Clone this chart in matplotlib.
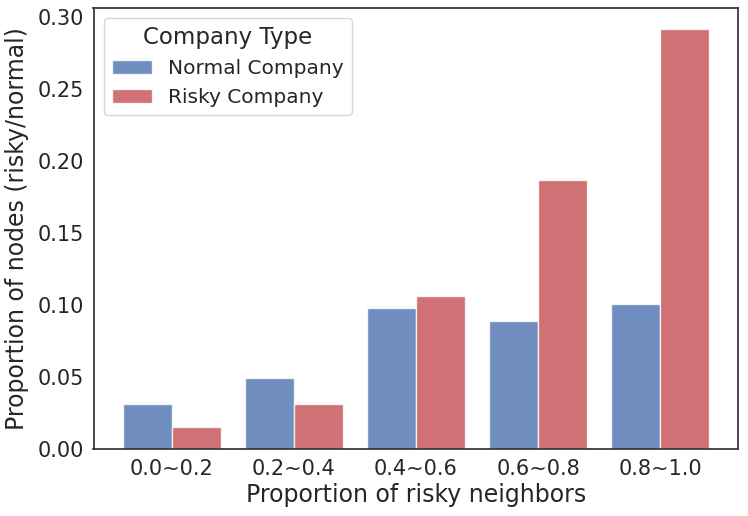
import numpy as np
import matplotlib
matplotlib.use('Agg')
import matplotlib.pyplot as plt
import seaborn as sns

# datos
categorias = ['0.0~0.2', '0.2~0.4', '0.4~0.6', '0.6~0.8', '0.8~1.0']
normal = [0.031, 0.049, 0.098, 0.089, 0.101]
risky = [0.015, 0.031, 0.106, 0.187, 0.292]
series = ['Normal Company', 'Risky Company']

sns.set_style('white')
plt.rcParams['font.family'] = ['DejaVu Sans']

fig, ax = plt.subplots(figsize=(7.48, 5.16), dpi=100)

x = np.arange(len(categorias))
ancho = 0.4
ax.bar(x - ancho / 2, normal, ancho, color='#4C72B0', alpha=0.8,
       edgecolor='white', linewidth=1, label=series[0])
ax.bar(x + ancho / 2, risky, ancho, color='#C44E52', alpha=0.8,
       edgecolor='white', linewidth=1, label=series[1])

ax.set_xticks(x)
ax.set_xticklabels(categorias)
ax.set_yticks(np.arange(0, 0.31, 0.05))
ax.tick_params(labelsize=15, colors='#262626')
ax.set_xlabel('Proportion of risky neighbors', fontsize=17, color='#262626',
              labelpad=3)
ax.set_ylabel('Proportion of nodes (risky/normal)', fontsize=17, color='#262626',
              labelpad=6)

for s in ax.spines.values():
    s.set_color('#333333')
    s.set_linewidth(1.25)

leg = ax.legend(title='Company Type', fontsize=14.5, title_fontsize=16.5,
                loc='upper left')
for t in leg.get_texts():
    t.set_color('#262626')
leg.get_title().set_color('#262626')

plt.subplots_adjust(left=0.125, right=0.987, top=0.985, bottom=0.13)
plt.savefig('out.png')
